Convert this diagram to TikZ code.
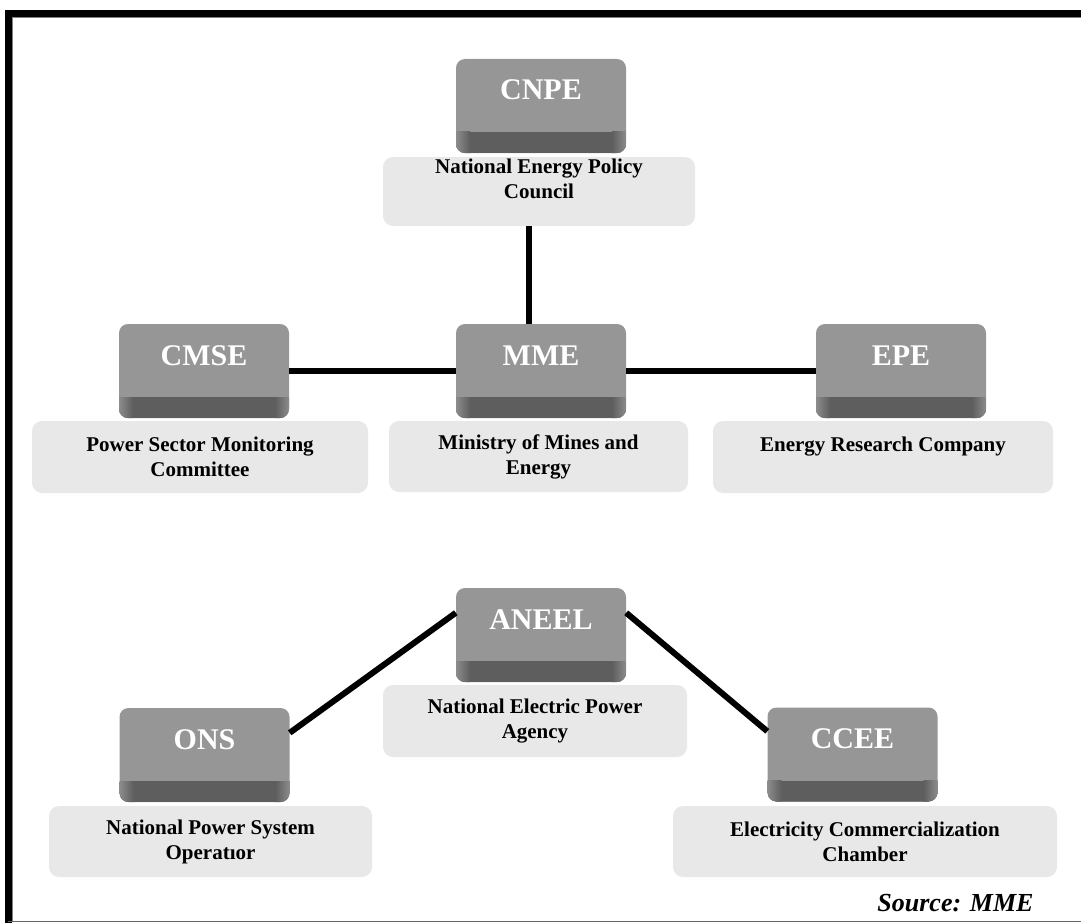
\documentclass[tikz,border=0pt]{standalone}
\usepackage{fontspec}
\setmainfont{Liberation Serif}
\usepackage{xcolor}
\usepackage{tikz}
\usetikzlibrary{calc,positioning}
\definecolor{facegray}{HTML}{969696}
\definecolor{bandgray}{HTML}{5E5E5E}
\definecolor{bandedge}{HTML}{8C8C8C}
\definecolor{namegray}{HTML}{E8E8E8}
\tikzset{
	keybox/.style={rectangle,rounded corners=9pt,fill=facegray,text=white,inner sep=0pt,
		minimum width=170pt,text height=41pt,text depth=53pt,
		font=\bfseries\fontsize{30}{30}\selectfont,
		path picture={
			\fill[bandgray,sharp corners] (path picture bounding box.south west) rectangle ([yshift=21pt]path picture bounding box.south east);
			\shade[left color=bandedge,right color=bandgray,sharp corners] (path picture bounding box.south west) rectangle ([xshift=14pt,yshift=21pt]path picture bounding box.south west);
			\shade[left color=bandgray,right color=bandedge,sharp corners] ([xshift=-14pt]path picture bounding box.south east) rectangle ([yshift=21pt]path picture bounding box.south east);
		}},
	namebox/.style={rectangle,rounded corners=10pt,fill=namegray,align=center,inner sep=0pt,
		minimum height=72pt,font=\bfseries\fontsize{21}{25}\selectfont},
	link/.style={line width=6pt,black},
	source label/.style={font=\bfseries\itshape\fontsize{26}{26}\selectfont}
}

\begin{document}
\begin{tikzpicture}[x=1pt,y=-1pt]
	\useasboundingbox (0,0) rectangle (1081,923);
	% frame
	\draw[gray,line width=0.8pt] (12.5,921) -- (12.5,17.5) -- (1081,17.5);
	\draw[line width=6.5pt] (8.3,923) -- (8.3,13.3) -- (1081,13.3);
	\draw[gray!80!black,line width=1.5pt] (8,921.5) -- (1081,921.5);

	% ministry level
	\node[keybox] (cnpe) at (541,106) {CNPE};
	\node[namebox,minimum width=312pt,minimum height=69pt] (cnpe-name) at (539,191.5) {National Energy Policy\\Council\\~};
	\node[keybox] (cmse) at (204,371) {CMSE};
	\node[namebox,minimum width=336pt] (cmse-name) at (200,457) {Power Sector Monitoring\\Committee};
	\node[keybox] (mme) at (541,371) {MME};
	\node[namebox,minimum width=299pt,minimum height=71pt] (mme-name) at (538.5,456.5) {Ministry of Mines and\\Energy};
	\node[keybox] (epe) at (901,371) {EPE};
	\node[namebox,minimum width=340pt] (epe-name) at (883,457) {Energy Research Company\\~};

	% regulator level
	\node[keybox] (aneel) at (541,635) {ANEEL};
	\node[namebox,minimum width=304pt] (aneel-name) at (535,721) {National Electric Power\\Agency};
	\node[keybox] (ons) at (204.5,755) {ONS};
	\node[namebox,minimum width=323pt,minimum height=71pt] (ons-name) at (210.5,841.5) {National Power System\\Operatıor};
	\node[keybox] (ccee) at (852.5,754.5) {CCEE};
	\node[namebox,minimum width=384pt,minimum height=71pt] (ccee-name) at (865,841.5) {Electricity Commercialization\\Chamber};

	\draw[link] ([xshift=-10pt]cnpe-name.south) -- ([xshift=-12pt]mme.north);
	\draw[link] (cmse) -- (mme);
	\draw[link] (mme) -- (epe);
	\draw[link] ([yshift=-25pt]aneel.north west) -- ([yshift=-25pt]ons.north east);
	\draw[link] ([yshift=-25pt]aneel.north east) -- ([yshift=-24pt]ccee.north west);

	\node[source label,anchor=base east] (source) at (1037,911) {Source: MME};
\end{tikzpicture}
\end{document}
